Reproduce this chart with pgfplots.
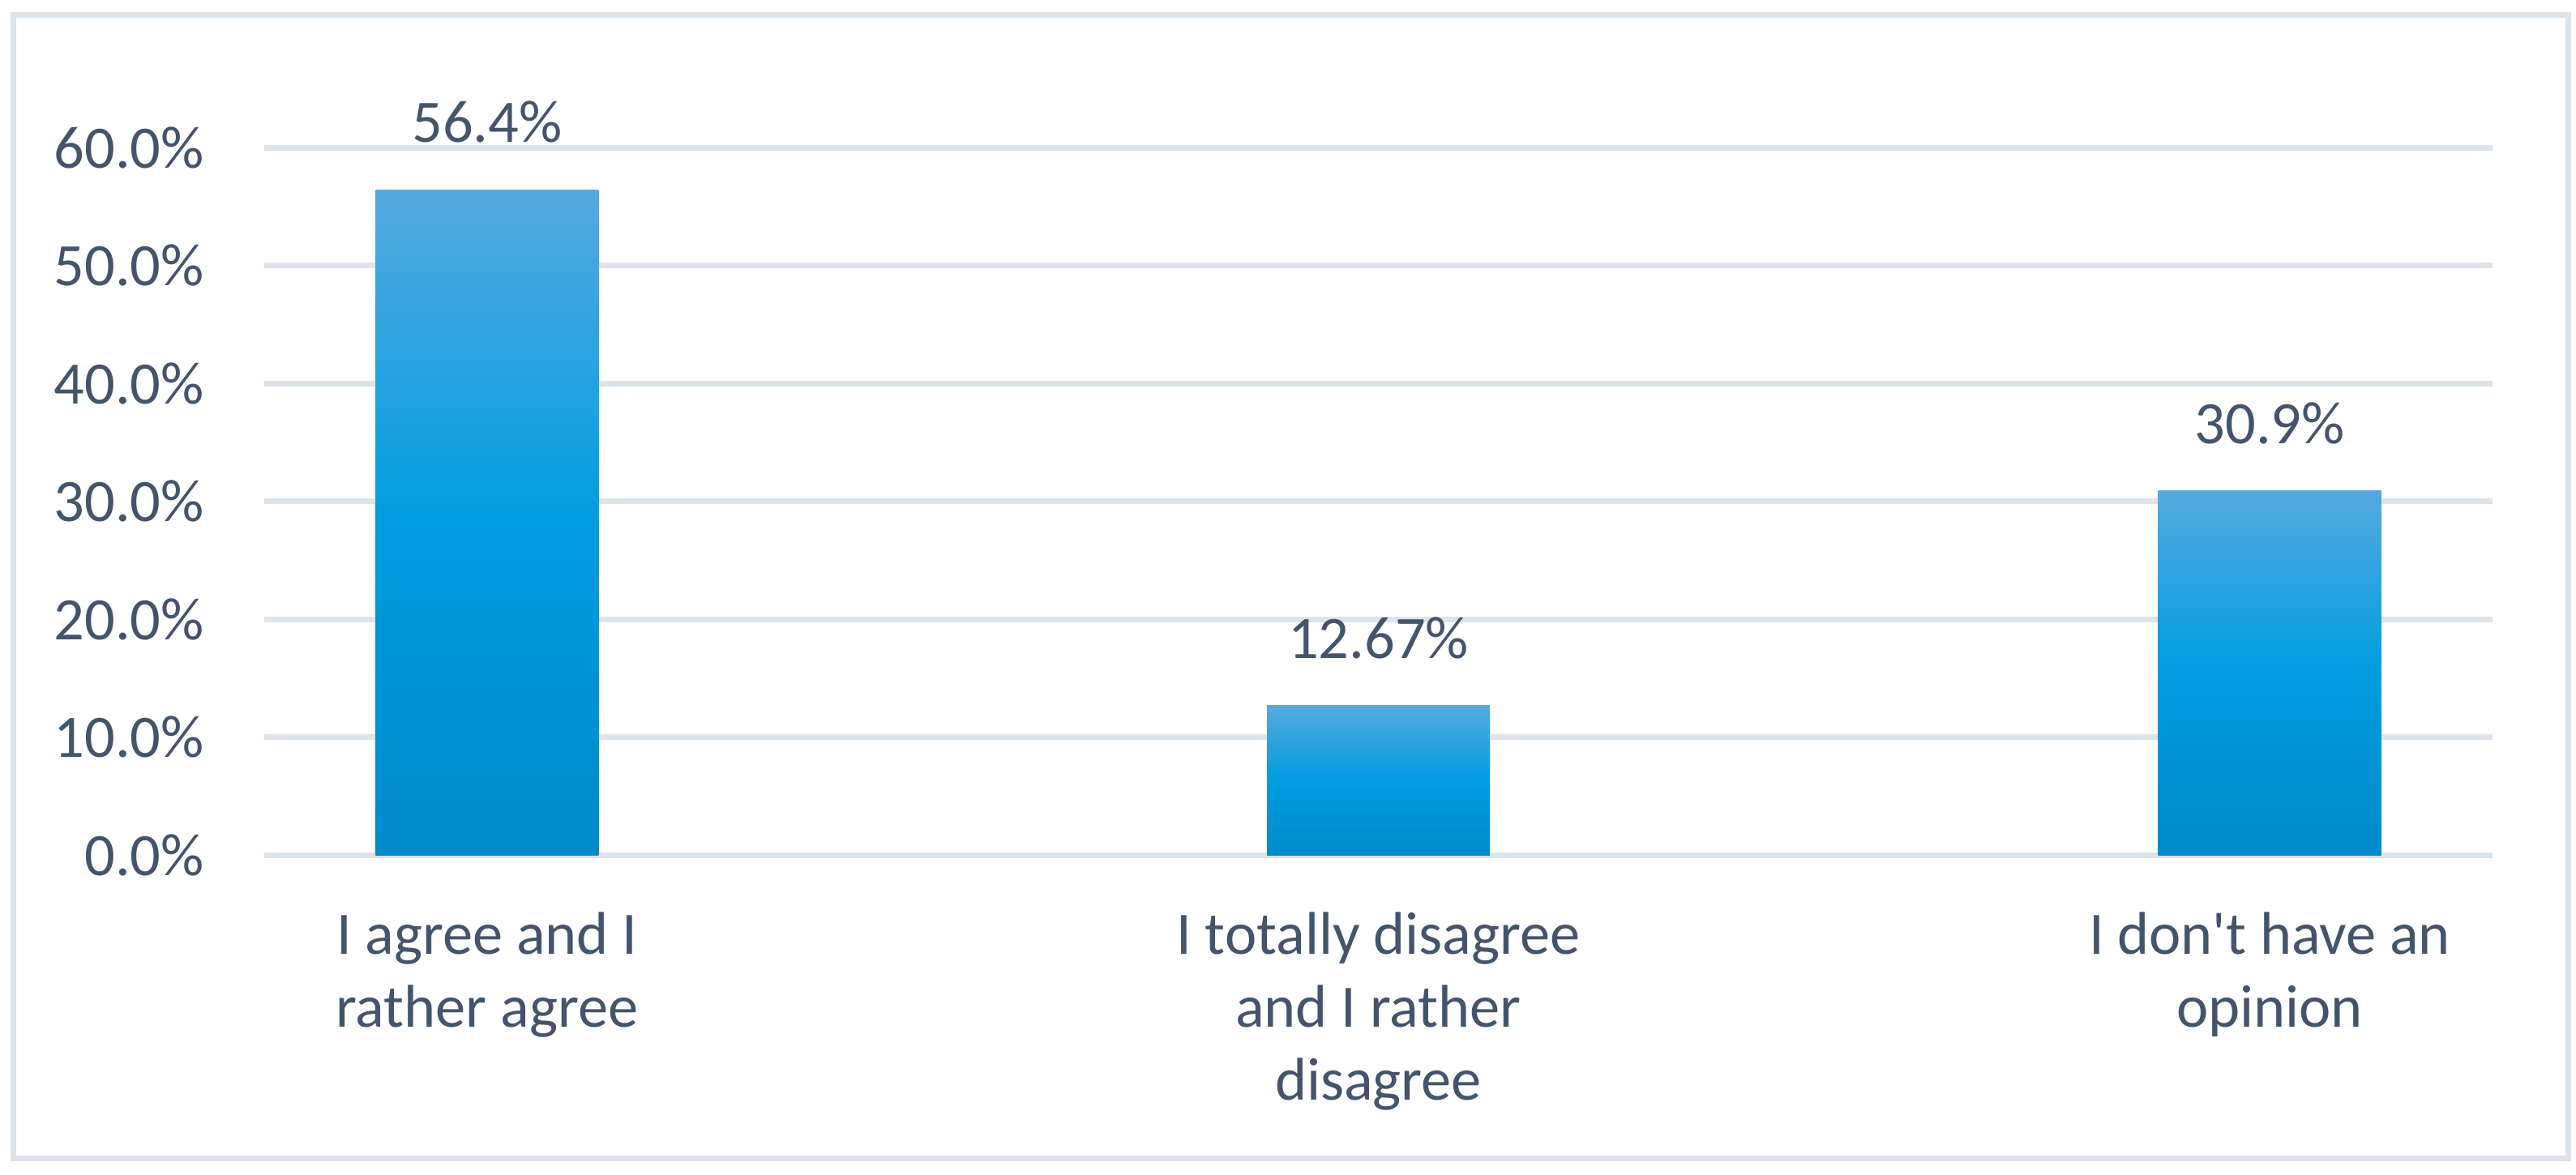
\documentclass[border=0pt]{standalone}
\usepackage{pgfplots}
\pgfplotsset{compat=1.18}
\usepackage{fontspec}
\setmainfont{Carlito}
\definecolor{txt}{HTML}{44546A}
\definecolor{gridc}{HTML}{DDE3EA}
\definecolor{btop}{HTML}{55A9DF}
\definecolor{bmid}{HTML}{009DDF}
\definecolor{bbot}{HTML}{008ACA}
\newcommand{\lblfont}{\fontsize{18.6}{22.5}\selectfont}
\begin{document}
\begin{tikzpicture}
\useasboundingbox (0,0) rectangle (794.5pt,362.25pt);
\draw[gridc, line width=1.75pt] (4pt,4.95pt) rectangle (792pt,357.65pt);
\begin{axis}[
  at={(81.5pt,98.5pt)}, anchor=south west,
  width=687.25pt, height=218.25pt, scale only axis,
  xmin=-0.25, xmax=2.25, ymin=0, ymax=60,
  ytick={0,10,20,30,40,50,60},
  yticklabels={0.0\%,10.0\%,20.0\%,30.0\%,40.0\%,50.0\%,60.0\%},
  xtick={0,1,2},
  xticklabels={{I agree and I\\rather agree},{I totally disagree\\and I rather\\disagree},{I don\textquotesingle t have an\\opinion}},
  xticklabel style={align=center, font=\lblfont, text=txt, inner sep=0pt, anchor=north, yshift=-17.5pt},
  yticklabel style={font=\lblfont, text=txt, inner sep=0pt, anchor=east, xshift=-18.35pt},
  tick style={draw=none},
  axis line style={draw=none},
  ymajorgrids, major grid style={draw=gridc, line width=1.75pt},
  nodes near coords={\pgfplotspointmeta\%}, point meta=explicit symbolic,
  every node near coord/.append style={font=\lblfont, text=txt, inner sep=0pt, yshift=14.25pt},
  barstyle/.style={ybar, bar shift=0pt, bar width=0.25, draw=none, top color=btop, bottom color=bbot, middle color=bmid},
]
\addplot[barstyle] coordinates {(0,56.4) [56.4]};
\addplot[barstyle] coordinates {(1,12.67) [12.67]};
\addplot[barstyle] coordinates {(2,30.9) [30.9]};
\end{axis}
\end{tikzpicture}
\end{document}
